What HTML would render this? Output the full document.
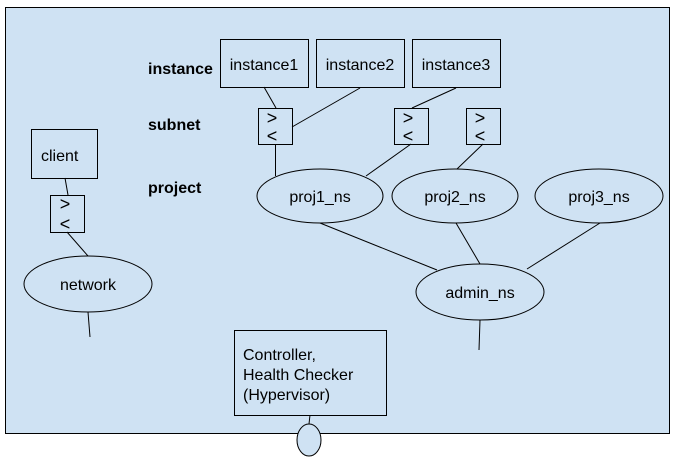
<!DOCTYPE html>
<html><head><style>
html,body{margin:0;padding:0;background:#fff;}
svg{display:block;}
text{font-family:"Liberation Sans",Arial,sans-serif;font-size:16px;fill:#000;}
.b{font-weight:bold;font-size:16px;}
.a{font-size:18px;}
</style></head><body>
<svg width="678" height="461" viewBox="0 0 678 461">
<g stroke="#000" stroke-width="1" fill="#cfe2f3">
<rect x="5.5" y="7.5" width="664" height="426"/>
<ellipse cx="309" cy="440" rx="12" ry="16"/>
<rect x="220.5" y="39.5" width="88" height="48"/>
<rect x="316.5" y="39.5" width="88" height="48"/>
<rect x="412.5" y="39.5" width="88" height="48"/>
<rect x="258.5" y="108.5" width="34" height="36"/>
<rect x="394.5" y="108.5" width="34" height="36"/>
<rect x="466.5" y="108.5" width="34" height="36"/>
<ellipse cx="320" cy="196" rx="63" ry="27"/>
<ellipse cx="455" cy="196" rx="63" ry="27"/>
<ellipse cx="599" cy="196" rx="64" ry="27"/>
<ellipse cx="480" cy="292" rx="64" ry="28"/>
<rect x="31.5" y="129.5" width="66" height="49"/>
<rect x="50.5" y="195.5" width="34" height="37"/>
<ellipse cx="88" cy="284" rx="64" ry="28"/>
<rect x="234.5" y="330.5" width="152" height="85"/>
</g>
<g stroke="#000" stroke-width="1" fill="none">
<line x1="264" y1="87" x2="276" y2="108"/>
<line x1="360" y1="88" x2="292" y2="127"/>
<line x1="456" y1="88" x2="412" y2="108"/>
<line x1="275.5" y1="144" x2="275.5" y2="176"/>
<line x1="411" y1="144" x2="366" y2="176"/>
<line x1="483" y1="144" x2="457" y2="169"/>
<line x1="320" y1="223" x2="437" y2="270"/>
<line x1="456" y1="223" x2="480" y2="264"/>
<line x1="600" y1="223" x2="527" y2="269"/>
<line x1="480" y1="320" x2="479" y2="350"/>
<line x1="65" y1="178" x2="68" y2="195"/>
<line x1="67" y1="232" x2="88" y2="256"/>
<line x1="88" y1="312" x2="90" y2="337"/>
<line x1="310" y1="415" x2="309" y2="424"/>
</g>
<text class="b" x="148" y="74">instance</text>
<text class="b" x="148" y="130">subnet</text>
<text class="b" x="148" y="193">project</text>
<text x="264" y="70" text-anchor="middle">instance1</text>
<text x="360" y="70" text-anchor="middle">instance2</text>
<text x="456" y="70" text-anchor="middle">instance3</text>
<text class="a" x="272" y="124" text-anchor="middle">&gt;</text><text class="a" x="272" y="142" text-anchor="middle">&lt;</text>
<text class="a" x="408" y="124" text-anchor="middle">&gt;</text><text class="a" x="408" y="142" text-anchor="middle">&lt;</text>
<text class="a" x="480" y="124" text-anchor="middle">&gt;</text><text class="a" x="480" y="142" text-anchor="middle">&lt;</text>
<text class="a" x="65" y="210" text-anchor="middle">&gt;</text><text class="a" x="65" y="230" text-anchor="middle">&lt;</text>
<text x="320" y="202" text-anchor="middle">proj1_ns</text>
<text x="455" y="202" text-anchor="middle">proj2_ns</text>
<text x="599" y="202" text-anchor="middle">proj3_ns</text>
<text x="480" y="298" text-anchor="middle">admin_ns</text>
<text x="41" y="161">client</text>
<text x="88" y="290" text-anchor="middle">network</text>
<text x="243" y="360">Controller,</text>
<text x="243" y="380">Health Checker</text>
<text x="243" y="400">(Hypervisor)</text>
</svg>
</body></html>
